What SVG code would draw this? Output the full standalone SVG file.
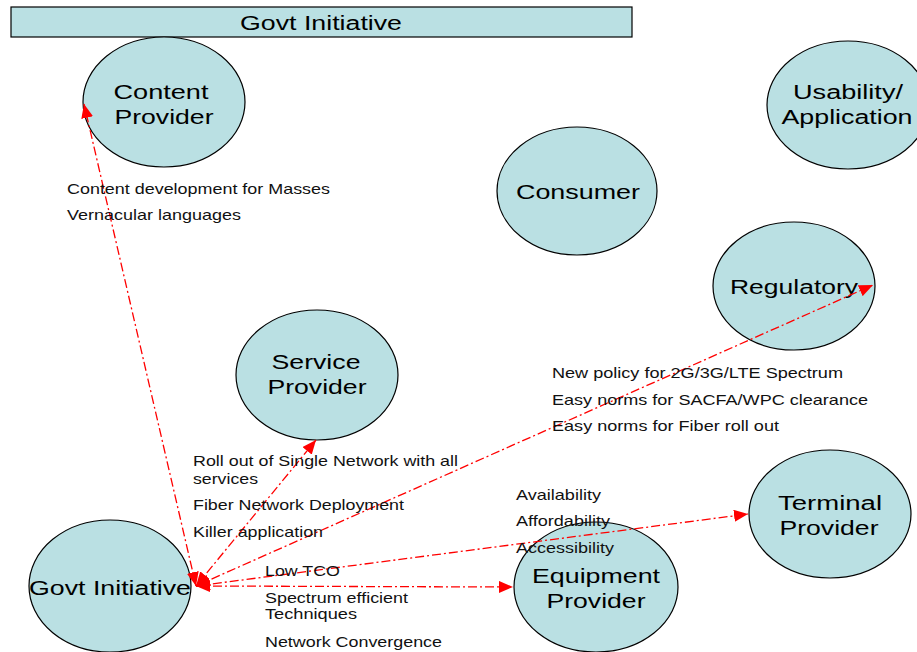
<svg xmlns="http://www.w3.org/2000/svg" width="917" height="652" viewBox="0 0 917 652">
<style>
.n{fill:#bae0e3;stroke:#000;stroke-width:1.2}
.t{font-family:"Liberation Sans",Arial,sans-serif;font-size:20px;fill:#000;text-anchor:middle}
.s{font-family:"Liberation Sans",Arial,sans-serif;font-size:14.5px;fill:#111}
.c{fill:none;stroke:#ff0000;stroke-width:1.3;stroke-dasharray:9 3 2 3;marker-start:url(#ah);marker-end:url(#ah)}
</style>
<defs>
<marker id="ah" markerUnits="userSpaceOnUse" markerWidth="14" markerHeight="12" refX="14" refY="6" orient="auto-start-reverse" viewBox="0 0 14 12">
<path d="M0,0 L14,6 L0,12 z" fill="#ff0000"/>
</marker>
</defs>
<rect width="917" height="652" fill="#fff"/>
<g id="title">
<rect x="11" y="7" width="621" height="30" class="n"/>
<text x="321" y="30" class="t" textLength="162" lengthAdjust="spacingAndGlyphs">Govt Initiative</text>
</g>
<g id="content-provider">
<ellipse cx="164" cy="102" rx="81" ry="65" class="n"/>
<text x="161" y="99" class="t" textLength="95" lengthAdjust="spacingAndGlyphs">Content</text>
<text x="164" y="124" class="t" textLength="99" lengthAdjust="spacingAndGlyphs">Provider</text>
</g>
<g id="usability">
<ellipse cx="848" cy="105" rx="81" ry="64" class="n"/>
<text x="848" y="99" class="t" textLength="110" lengthAdjust="spacingAndGlyphs">Usability/</text>
<text x="847" y="124" class="t" textLength="131" lengthAdjust="spacingAndGlyphs">Application</text>
</g>
<g id="consumer">
<ellipse cx="577" cy="191" rx="80" ry="64" class="n"/>
<text x="578" y="199" class="t" textLength="124" lengthAdjust="spacingAndGlyphs">Consumer</text>
</g>
<g id="regulatory">
<ellipse cx="794" cy="286" rx="81" ry="64" class="n"/>
<text x="794" y="294" class="t" textLength="128" lengthAdjust="spacingAndGlyphs">Regulatory</text>
</g>
<g id="service-provider">
<ellipse cx="317" cy="375" rx="81" ry="65" class="n"/>
<text x="316" y="369" class="t" textLength="89" lengthAdjust="spacingAndGlyphs">Service</text>
<text x="317" y="394" class="t" textLength="99" lengthAdjust="spacingAndGlyphs">Provider</text>
</g>
<g id="terminal-provider">
<ellipse cx="830" cy="514" rx="81" ry="64" class="n"/>
<text x="830" y="510" class="t" textLength="104" lengthAdjust="spacingAndGlyphs">Terminal</text>
<text x="829" y="535" class="t" textLength="99" lengthAdjust="spacingAndGlyphs">Provider</text>
</g>
<g id="equipment-provider">
<ellipse cx="596" cy="587" rx="82" ry="65" class="n"/>
<text x="596" y="583" class="t" textLength="128" lengthAdjust="spacingAndGlyphs">Equipment</text>
<text x="596" y="608" class="t" textLength="99" lengthAdjust="spacingAndGlyphs">Provider</text>
</g>
<g id="govt-initiative">
<ellipse cx="110" cy="586" rx="81" ry="66" class="n"/>
<text x="110" y="595" class="t" textLength="162" lengthAdjust="spacingAndGlyphs">Govt Initiative</text>
</g>
<g id="connectors">
<line class="c" x1="196" y1="586" x2="84" y2="104"/>
<line class="c" x1="196" y1="586" x2="316" y2="440"/>
<line class="c" x1="196" y1="586" x2="873" y2="285"/>
<line class="c" x1="196" y1="586" x2="748" y2="514"/>
<line class="c" x1="196" y1="586" x2="513" y2="587"/>
</g>
<g id="labels">
<text x="67" y="194" class="s" textLength="263" lengthAdjust="spacingAndGlyphs">Content development for Masses</text>
<text x="67" y="220" class="s" textLength="174" lengthAdjust="spacingAndGlyphs">Vernacular languages</text>
<text x="552" y="378" class="s" textLength="291" lengthAdjust="spacingAndGlyphs">New policy for 2G/3G/LTE Spectrum</text>
<text x="552" y="405" class="s" textLength="316" lengthAdjust="spacingAndGlyphs">Easy norms for SACFA/WPC clearance</text>
<text x="552" y="431" class="s" textLength="227" lengthAdjust="spacingAndGlyphs">Easy norms for Fiber roll out</text>
<text x="193" y="466" class="s" textLength="265" lengthAdjust="spacingAndGlyphs">Roll out of Single Network with all</text>
<text x="193" y="484" class="s" textLength="65" lengthAdjust="spacingAndGlyphs">services</text>
<text x="193" y="510" class="s" textLength="211" lengthAdjust="spacingAndGlyphs">Fiber Network Deployment</text>
<text x="193" y="537" class="s" textLength="130" lengthAdjust="spacingAndGlyphs">Killer application</text>
<text x="516" y="500" class="s" textLength="85" lengthAdjust="spacingAndGlyphs">Availability</text>
<text x="516" y="526" class="s" textLength="94" lengthAdjust="spacingAndGlyphs">Affordability</text>
<text x="516" y="553" class="s" textLength="98" lengthAdjust="spacingAndGlyphs">Accessibility</text>
<text x="265" y="576" class="s" textLength="75" lengthAdjust="spacingAndGlyphs">Low TCO</text>
<text x="265" y="603" class="s" textLength="143" lengthAdjust="spacingAndGlyphs">Spectrum efficient</text>
<text x="265" y="619" class="s" textLength="92" lengthAdjust="spacingAndGlyphs">Techniques</text>
<text x="265" y="647" class="s" textLength="177" lengthAdjust="spacingAndGlyphs">Network Convergence</text>
</g>
</svg>
